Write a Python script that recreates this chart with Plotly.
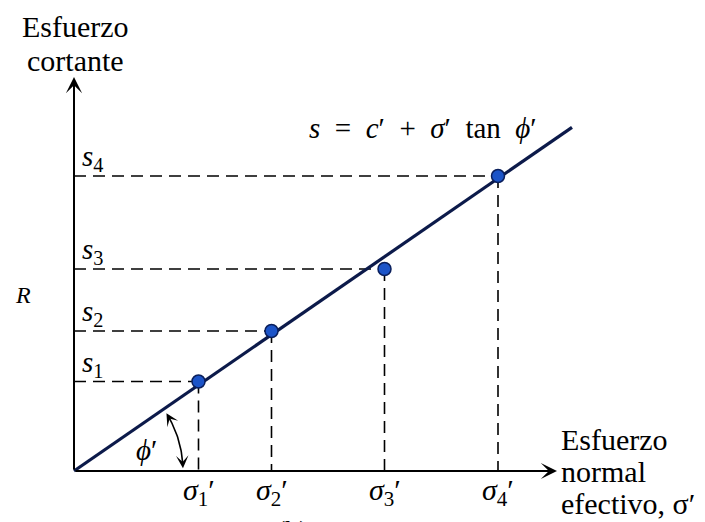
import math
import plotly.graph_objects as go

# Mohr-Coulomb failure envelope: s = c' + sigma' tan(phi')
sigma_eff = [2.49, 3.95, 6.21, 8.48]      # effective normal stress at failure
shear_s = [1.79, 2.80, 4.04, 5.90]        # shear strength at failure
sigma_labels = ["<i>σ</i><sub>1</sub>′", "<i>σ</i><sub>2</sub>′",
                "<i>σ</i><sub>3</sub>′", "<i>σ</i><sub>4</sub>′"]
s_labels = ["<i>s</i><sub>1</sub>", "<i>s</i><sub>2</sub>",
            "<i>s</i><sub>3</sub>", "<i>s</i><sub>4</sub>"]
c_eff = 0.0
tan_phi = 0.69
envelope_x = [0.0, 9.96]

x_axis_end = 9.66
y_axis_end = 7.88

SERIF = "Liberation Serif"
BLACK = "#000000"
NAVY = "#0c1a4a"
SP = "\u2002"  # en space for the equation


def serif(size):
    return dict(family=SERIF, size=size, color=BLACK)


fig = go.Figure()

# dashed projections of each failure point onto both axes
dx, dy = [], []
for sx, sy in zip(sigma_eff, shear_s):
    dx += [0, sx, None, sx, sx, None]
    dy += [sy, sy, None, sy, 0, None]
fig.add_trace(go.Scatter(x=dx, y=dy, mode="lines",
                         line=dict(color=BLACK, width=1.6, dash="12px,7px"),
                         hoverinfo="skip"))

# failure envelope
env_y = [c_eff + tan_phi * v for v in envelope_x]
fig.add_trace(go.Scatter(x=envelope_x, y=env_y, mode="lines",
                         line=dict(color=NAVY, width=3.2), hoverinfo="skip"))

# angle arc for phi'
r_arc = 2.18
arc_t = [math.radians(a) for a in range(4, 31)]
fig.add_trace(go.Scatter(x=[r_arc * math.cos(t) for t in arc_t],
                         y=[r_arc * math.sin(t) for t in arc_t],
                         mode="lines", line=dict(color=BLACK, width=1.6),
                         hoverinfo="skip"))

# failure points
fig.add_trace(go.Scatter(x=sigma_eff, y=shear_s, mode="markers",
                         marker=dict(size=13, color="#1c54c8",
                                     line=dict(color="#0a1f5c", width=1.5)),
                         hoverinfo="skip"))

ann = []
# axes with arrowheads
ann.append(dict(x=x_axis_end, y=0, ax=0, ay=0, xref="x", yref="y", axref="x", ayref="y",
                showarrow=True, arrowhead=3, arrowsize=1.35, arrowwidth=2,
                arrowcolor=BLACK, standoff=0, text=""))
ann.append(dict(x=0, y=y_axis_end, ax=0, ay=0, xref="x", yref="y", axref="x", ayref="y",
                showarrow=True, arrowhead=3, arrowsize=1.35, arrowwidth=2,
                arrowcolor=BLACK, standoff=0, text=""))

# arrowheads at both ends of the angle arc
for a_tip, a_tail in [(32, 29), (1.5, 5)]:
    tt, tl = math.radians(a_tip), math.radians(a_tail)
    ann.append(dict(x=r_arc * math.cos(tt), y=r_arc * math.sin(tt),
                    ax=r_arc * math.cos(tl), ay=r_arc * math.sin(tl),
                    xref="x", yref="y", axref="x", ayref="y",
                    showarrow=True, arrowhead=3, arrowsize=1.3, arrowwidth=1.6,
                    arrowcolor=BLACK, standoff=0, text=""))

ann.append(dict(x=1.44, y=0.42, xref="x", yref="y", showarrow=False,
                text="<i>ϕ</i>′", font=serif(29)))

# tick-style labels
for sx, lab in zip(sigma_eff, sigma_labels):
    ann.append(dict(x=sx, y=0, xref="x", yref="y", showarrow=False, text=lab,
                    xanchor="center", yanchor="top", yshift=0, font=serif(30)))
for sy, lab in zip(shear_s, s_labels):
    ann.append(dict(x=0, y=sy, xref="x", yref="y", showarrow=False, text=lab,
                    xanchor="left", yanchor="bottom", xshift=6, yshift=-2, font=serif(29)))

# equation of the envelope
ann.append(dict(x=6.97, y=6.86, xref="x", yref="y", showarrow=False,
                text=f"<i>s</i>{SP}={SP}<i>c</i>′{SP}+{SP}<i>σ</i>′{SP}tan{SP}<i>ϕ</i>′",
                font=serif(29)))

# axis titles
ann.append(dict(x=0.02, y=8.9, xref="x", yref="y", showarrow=False, text="Esfuerzo",
                font=serif(30)))
ann.append(dict(x=0.02, y=8.22, xref="x", yref="y", showarrow=False, text="cortante",
                font=serif(30)))
for yy, t in [(0.64, "Esfuerzo"), (0.0, "normal"), (-0.64, "efectivo, σ′")]:
    ann.append(dict(x=9.70, y=yy, xref="x", yref="y", showarrow=False, text=t,
                    xanchor="left", font=serif(30)))

ann.append(dict(x=-1.03, y=3.52, xref="x", yref="y", showarrow=False, text="<i>R</i>",
                font=serif(24)))

# panel caption, partly below the lower edge
ann.append(dict(x=4.36, y=0.0, xref="x", yref="paper", showarrow=False, text="(b)",
                yanchor="top", yshift=9, font=serif(28)))

fig.update_layout(
    width=705, height=522,
    margin=dict(l=0, r=0, t=0, b=0),
    paper_bgcolor="white", plot_bgcolor="white",
    font=serif(28),
    showlegend=False,
    xaxis=dict(range=[-1.48, 12.62], visible=False, fixedrange=True),
    yaxis=dict(range=[-1.02, 9.42], visible=False, fixedrange=True),
    annotations=ann,
)

fig.write_html("out.html")
